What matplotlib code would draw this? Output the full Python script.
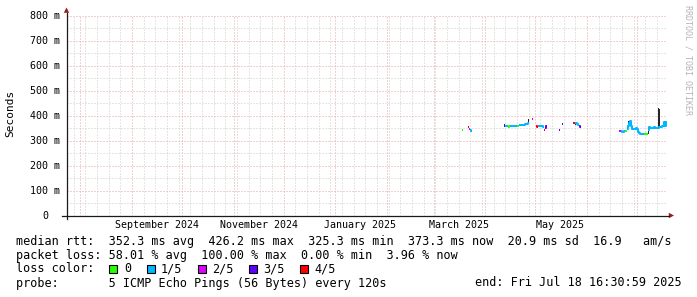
import matplotlib
matplotlib.use("Agg")
import matplotlib.pyplot as plt
import matplotlib.dates as mdates
import matplotlib.ticker as mticker
from matplotlib.patches import Polygon, Rectangle
from matplotlib.lines import Line2D
from datetime import datetime, timedelta
import numpy as np

# ---------------- data ----------------
start_time = "2024-07-23 16:30:59"
end_time = "2025-07-18 16:30:59"
step_hours = 14.4  # one consolidated RRA row per pixel

y_ticks = [0, 100, 200, 300, 400, 500, 600, 700, 800]
y_tick_labels = ["0", "100 m", "200 m", "300 m", "400 m", "500 m", "600 m", "700 m", "800 m"]

x_label_dates = ["2024-09-16", "2024-11-16", "2025-01-16", "2025-03-16", "2025-05-16"]
x_label_texts = ["September 2024", "November 2024", "January 2025", "March 2025", "May 2025"]

loss_colors = ["#26ff00", "#00b8ff", "#dd00ff", "#5e00ff", "#ff0000"]
loss_labels = ["0", "1/5", "2/5", "3/5", "4/5"]

# runs of consecutive samples: start time, median rtt (ms), loss category
run_starts = [
    "2025-03-18 00:00",
    "2025-03-21 14:00",
    "2025-04-12 04:00",
    "2025-04-28 23:00",
    "2025-05-01 09:00",
    "2025-05-15 04:00",
    "2025-05-16 23:00",
    "2025-05-23 13:00",
    "2025-06-20 03:00",
]
run_median = [
    [343],
    [353, 347, 342, 338],
    [360, 358, 357, 357, 356, 357, 357, 358, 358, 358, 358, 359, 359, 359, 360,
     361, 361, 362, 362, 363, 364, 366, 367, 368, 372],
    [386],
    [357, 356, 357, 357, 357, 357, 357, 356, 342, 352, 357],
    [342],
    [368],
    [371, 372, 370, 369, 366, 363, 359, 355],
    [338, 337, 337, 336, 336, 337, 337, 338, 345, 360, 372, 378, 360, 348, 345, 346,
     345, 352, 346, 335, 330, 328, 327, 327, 326, 327, 327, 326, 327, 342, 353, 351,
     350, 349, 350, 355, 349, 350, 352, 350, 354, 356, 354, 357, 360, 376, 358, 373],
]
run_loss = [
    [0],
    [4, 2, 1, 1],
    [3, 1, 1, 1, 0, 0, 1, 1, 1, 1, 1, 1, 1, 0, 0, 1, 1, 1, 1, 1, 1, 1, 1, 1, 1],
    [2],
    [4, 4, 1, 1, 1, 1, 1, 1, 4, 3, 3],
    [3],
    [3],
    [4, 4, 1, 1, 1, 1, 3, 3],
    [2, 2, 1, 1, 1, 1, 0, 0, 1, 1, 1, 1, 1, 1, 1, 1, 1, 1, 1, 1, 1, 1, 1, 1, 1, 0,
     0, 0, 0, 1, 1, 1, 1, 1, 1, 1, 1, 1, 1, 1, 1, 1, 1, 1, 1, 1, 1, 1],
]

# smoke (spread of the pings)
smoke_times = ["2025-04-12 04:00", "2025-04-26 13:30", "2025-05-24 16:00",
               "2025-06-25 13:00", "2025-07-07 13:00", "2025-07-11 03:00",
               "2025-07-13 13:00", "2025-07-14 03:00"]
smoke_low = [354, 368, 364, 348, 328, 347, 345, 352]
smoke_high = [365, 388, 376, 378, 355, 360, 432, 426]

legend_lines = [
    "median rtt:  352.3 ms avg  426.2 ms max  325.3 ms min  373.3 ms now  20.9 ms sd  16.9   am/s",
    "packet loss: 58.01 % avg  100.00 % max  0.00 % min  3.96 % now",
    "loss color:",
    "probe:       5 ICMP Echo Pings (56 Bytes) every 120s",
]
end_text = "end: Fri Jul 18 16:30:59 2025"

# ---------------- figure ----------------
W, H = 697, 297
plt.rcParams["font.family"] = ["DejaVu Sans Mono", "DejaVu Sans"]
fig = plt.figure(figsize=(W / 100, H / 100), dpi=100, facecolor="white")

ax_left, ax_right, ax_top, ax_bottom = 66.5, 666.5, 15.7, 215.7
ax = fig.add_axes([ax_left / W, 1 - ax_bottom / H, (ax_right - ax_left) / W, (ax_bottom - ax_top) / H])
ax.set_facecolor("white")

def fp(x, y):
    return (x / W, 1 - y / H)

t0 = datetime.strptime(start_time, "%Y-%m-%d %H:%M:%S")
t1 = datetime.strptime(end_time, "%Y-%m-%d %H:%M:%S")
step = timedelta(hours=step_hours)

ax.set_xlim(mdates.date2num(t0), mdates.date2num(t1))
ax.set_ylim(y_ticks[0], y_ticks[-1])

# grid
ax.xaxis.set_major_locator(mdates.MonthLocator())
ax.xaxis.set_minor_locator(mdates.WeekdayLocator(byweekday=mdates.SU))
ax.yaxis.set_major_locator(mticker.FixedLocator(y_ticks))
ax.yaxis.set_minor_locator(mticker.MultipleLocator(50))
ax.grid(which="minor", color="#cdcdcd", linestyle=(0, (1, 2)), linewidth=0.72, zorder=0)
ax.grid(which="major", color="#e9a2a2", linestyle=(0, (1, 2)), linewidth=0.72, zorder=0)
ax.set_axisbelow(True)
ax.tick_params(which="both", length=0, labelbottom=False, labelleft=False)
for s in ax.spines.values():
    s.set_visible(False)

# smoke
step_days = step_hours / 24
ax.bar([mdates.date2num(datetime.strptime(t, "%Y-%m-%d %H:%M")) for t in smoke_times],
       np.array(smoke_high) - np.array(smoke_low), bottom=smoke_low, width=step_days,
       align="edge", color="#262626", linewidth=0, zorder=2)

# median lines coloured by loss
for rs, meds, losses in zip(run_starts, run_median, run_loss):
    ts = datetime.strptime(rs, "%Y-%m-%d %H:%M")
    times = [mdates.date2num(ts + i * step) for i in range(len(meds))]
    i = 0
    n = len(meds)
    while i < n:
        j = i
        while j + 1 < n and losses[j + 1] == losses[i]:
            j += 1
        xs = times[i:j + 1] + [times[j] + step_days]
        ys = meds[i:j + 1] + [meds[j]]
        ax.plot(xs, ys, drawstyle="steps-post", color=loss_colors[losses[i]],
                linewidth=1.45, solid_capstyle="butt", zorder=3)
        i = j + 1

# y tick labels
ytr = ax.get_yaxis_transform()
for v, lab in zip(y_ticks, y_tick_labels):
    xoff = -6.5 if lab != "0" else -18.5
    ax.text(xoff / 600, v, lab, transform=ytr, ha="right", va="center", fontsize=7.2, color="black")

# x labels
xtr = ax.get_xaxis_transform()
for d, lab in zip(x_label_dates, x_label_texts):
    ax.text(mdates.date2num(datetime.strptime(d, "%Y-%m-%d")), -9.5 / 200, lab, transform=xtr,
            ha="center", va="center", fontsize=7.2, color="black")

# axes lines and arrows
axis_col = "#1a1a1a"
arrow_col = "#9a1b1b"
fig.add_artist(Line2D([fp(66.5, 219)[0], fp(66.5, 12.5)[0]], [fp(66.5, 219)[1], fp(66.5, 12.5)[1]],
                      transform=fig.transFigure, color=axis_col, linewidth=0.9))
fig.add_artist(Line2D([fp(62, 215.5)[0], fp(669, 215.5)[0]], [fp(62, 215.5)[1], fp(669, 215.5)[1]],
                      transform=fig.transFigure, color=axis_col, linewidth=0.9))
fig.add_artist(Polygon([fp(63.8, 12.8), fp(69.2, 12.8), fp(66.5, 7.5)], closed=True,
                       transform=fig.transFigure, color=arrow_col, linewidth=0))
fig.add_artist(Polygon([fp(668.8, 212.8), fp(668.8, 218.2), fp(674, 215.5)], closed=True,
                       transform=fig.transFigure, color=arrow_col, linewidth=0))

# axis title & watermark
fig.text(*fp(10, 113), "Seconds", rotation=90, ha="center", va="center", fontsize=8, color="black")
fig.text(*fp(688, 60), "RRDTOOL / TOBI OETIKER", rotation=270, ha="center", va="center",
         fontsize=6.0, color="#b4b4b4")

# legend
leg_fs = 8.5
line_y = [241, 255, 268.5, 283]
for txt, yy in zip(legend_lines, line_y):
    fig.text(*fp(16, yy), txt, ha="left", va="center", fontsize=leg_fs, color="black")
fig.text(*fp(682, line_y[3]), end_text, ha="right", va="center", fontsize=leg_fs, color="black")

box_x = [109, 146.5, 197.5, 248.5, 299.5]
lab_x = [124, 160.7, 212, 263, 314.7]
for bx, lx, col, lab in zip(box_x, lab_x, loss_colors, loss_labels):
    x0, y0 = fp(bx, line_y[2] + 4)
    fig.add_artist(Rectangle((x0, y0), 8 / W, 8 / H, transform=fig.transFigure,
                             facecolor=col, edgecolor="black", linewidth=0.8))
    fig.text(*fp(lx, line_y[2]), lab, ha="left", va="center", fontsize=leg_fs, color="black")

fig.savefig("out.png", dpi=100, facecolor="white")
